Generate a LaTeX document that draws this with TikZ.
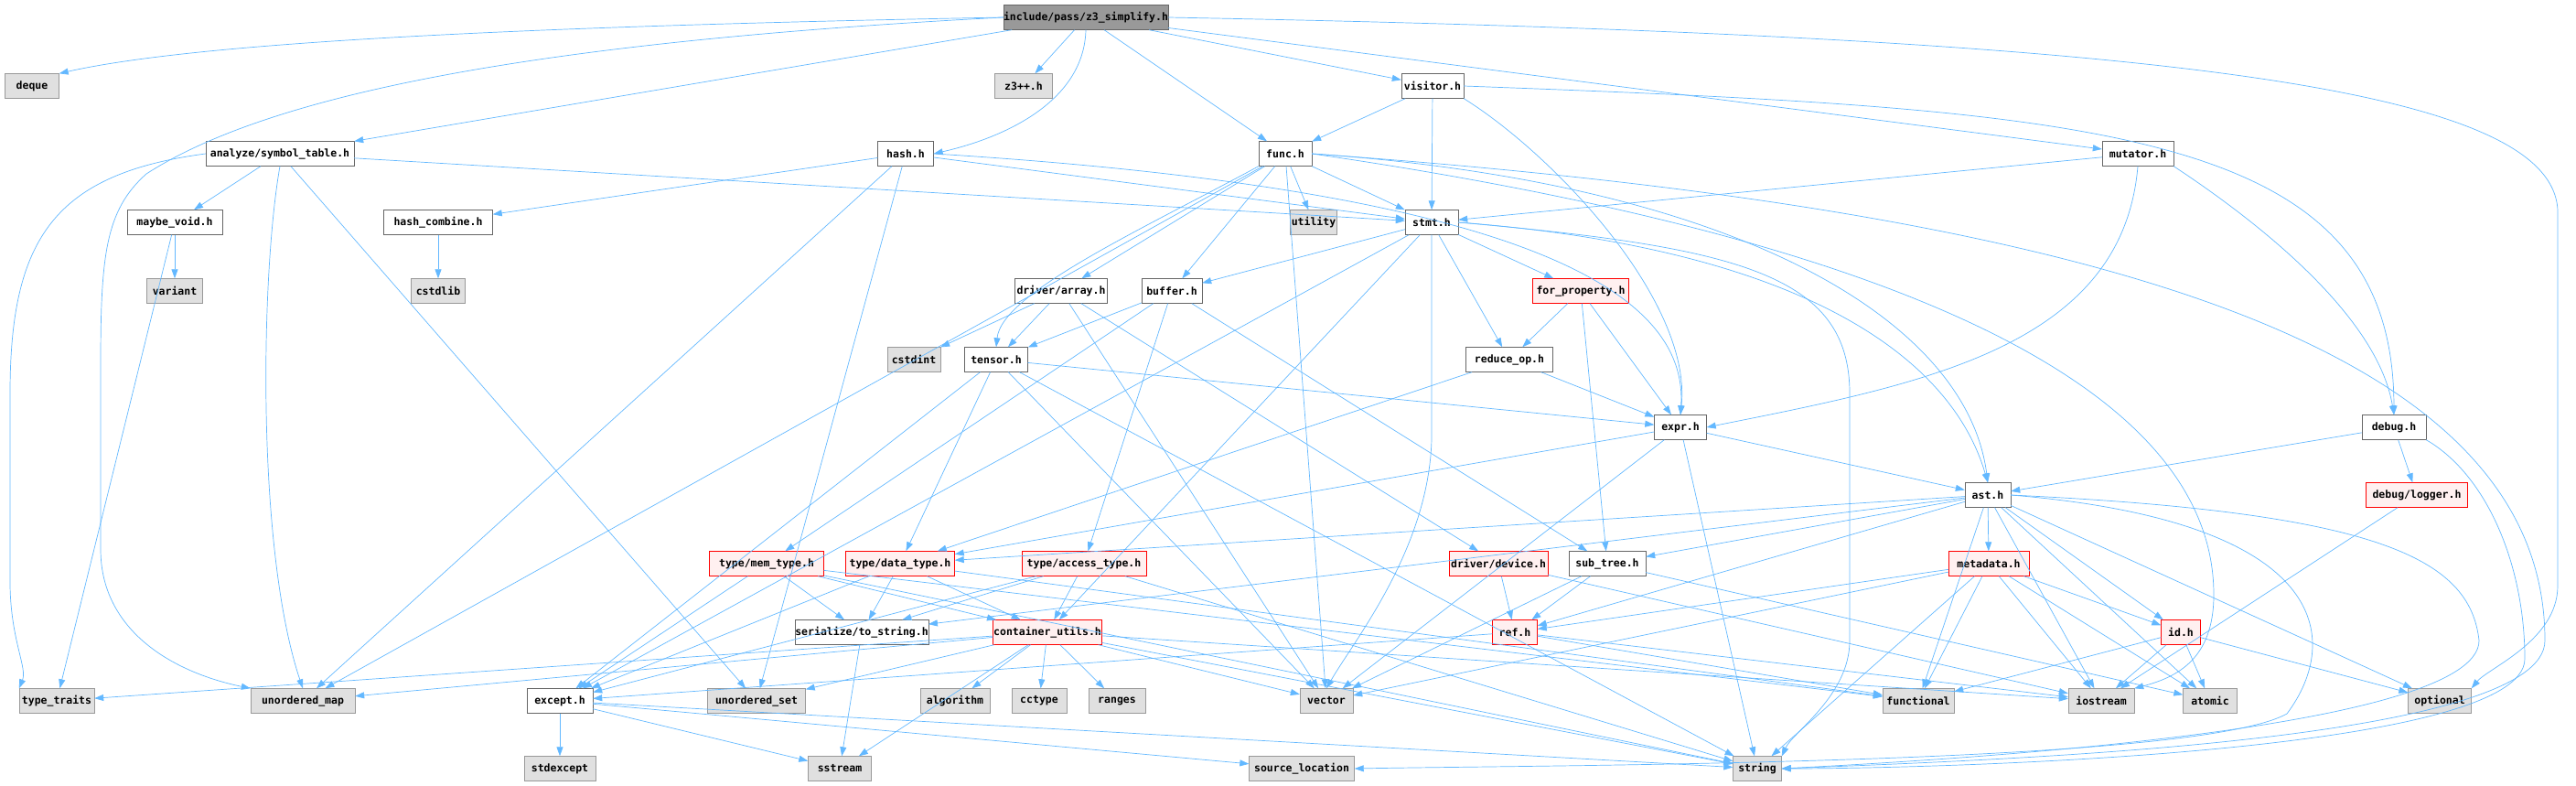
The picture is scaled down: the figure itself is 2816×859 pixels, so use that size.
\documentclass[tikz,border=0pt]{standalone}
\usepackage{fontspec}
\setmonofont{DejaVu Sans Mono}
\usetikzlibrary{arrows.meta}
\definecolor{inclblue}{HTML}{63B8FF}
\definecolor{sysgray}{HTML}{E0E0E0}
\definecolor{rootgray}{HTML}{999999}
\definecolor{truncfill}{HTML}{FFF0F0}
\begin{document}
\begin{tikzpicture}[x=1pt, y=-1pt,
    hdr/.style={rectangle, draw=black!60, fill=white, minimum height=27pt, inner sep=0pt, font=\ttfamily\bfseries\fontsize{11.5}{12}\selectfont},
    sys/.style={hdr, draw=black!40, fill=sysgray},
    trunc/.style={hdr, draw=red, fill=truncfill},
    root/.style={hdr, fill=rootgray},
    incl/.style={-{Triangle[length=10pt, width=7pt]}, draw=inclblue, line width=0.7pt}
]
\useasboundingbox (0,0) rectangle (2816,859);

\node[root, minimum width=177pt] (z3s) at (1187,19) {include/pass/z3\_simplify.h};

\node[sys, minimum width=59pt] (deque) at (35,94) {deque};
\node[sys, minimum width=63pt] (z3pp) at (1119,94) {z3++.h};
\node[hdr, minimum width=68pt] (visitor) at (1566,94) {visitor.h};

\node[hdr, minimum width=162pt] (symtab) at (306,168) {analyze/symbol\_table.h};
\node[hdr, minimum width=61pt] (hash) at (990,168) {hash.h};
\node[hdr, minimum width=58pt] (func) at (1405,168) {func.h};
\node[hdr, minimum width=78pt] (mutator) at (2337,168) {mutator.h};

\node[hdr, minimum width=104pt] (maybevoid) at (191,243) {maybe\_void.h};
\node[hdr, minimum width=119pt] (hashcomb) at (479,243) {hash\_combine.h};
\node[sys, minimum width=51pt] (utility) at (1436,243) {utility};
\node[hdr, minimum width=58pt] (stmt) at (1565,243) {stmt.h};

\node[sys, minimum width=61pt] (variant) at (191,318) {variant};
\node[sys, minimum width=59pt] (cstdlib) at (479,318) {cstdlib};
\node[hdr, minimum width=101pt] (drvarray) at (1160,318) {driver/array.h};
\node[hdr, minimum width=66pt] (buffer) at (1281,318) {buffer.h};
\node[trunc, minimum width=105pt] (forprop) at (1728,318) {for\_property.h};

\node[sys, minimum width=58pt] (cstdint) at (999,393) {cstdint};
\node[hdr, minimum width=69pt] (tensor) at (1089,393) {tensor.h};
\node[hdr, minimum width=95pt] (reduceop) at (1650,393) {reduce\_op.h};

\node[hdr, minimum width=57pt] (expr) at (1837,467) {expr.h};
\node[hdr, minimum width=70pt] (debug) at (2617,467) {debug.h};

\node[hdr, minimum width=50pt] (ast) at (2173,541) {ast.h};
\node[trunc, minimum width=111pt] (logger) at (2642,541) {debug/logger.h};

\node[trunc, minimum width=125pt] (memtype) at (838,616) {type/mem\_type.h};
\node[trunc, minimum width=119pt] (datatype) at (984,616) {type/data\_type.h};
\node[trunc, minimum width=136pt] (accesstype) at (1185,616) {type/access\_type.h};
\node[trunc, minimum width=108pt] (drvdevice) at (1638,616) {driver/device.h};
\node[hdr, minimum width=84pt] (subtree) at (1757,616) {sub\_tree.h};
\node[trunc, minimum width=88pt] (metadata) at (2174,616) {metadata.h};

\node[hdr, minimum width=137pt] (tostring) at (942,691) {serialize/to\_string.h};
\node[trunc, minimum width=119pt] (contutils) at (1145,691) {container\_utils.h};
\node[trunc, minimum width=49pt] (ref) at (1656,691) {ref.h};
\node[trunc, minimum width=43pt] (idh) at (2384,691) {id.h};

\node[sys, minimum width=82pt] (ttraits) at (62,766) {type\_traits};
\node[sys, minimum width=114pt] (umap) at (331,766) {unordered\_map};
\node[hdr, minimum width=72pt] (except) at (612,766) {except.h};
\node[sys, minimum width=107pt] (uset) at (827,766) {unordered\_set};
\node[sys, minimum width=76pt] (algorithm) at (1044,766) {algorithm};
\node[sys, minimum width=60pt] (cctype) at (1136,766) {cctype};
\node[sys, minimum width=62pt] (ranges) at (1221,766) {ranges};
\node[sys, minimum width=58pt] (vector) at (1450,766) {vector};
\node[sys, minimum width=78pt] (functional) at (2097,766) {functional};
\node[sys, minimum width=72pt] (iostream) at (2297,766) {iostream};
\node[sys, minimum width=59pt] (atomic) at (2416,766) {atomic};
\node[sys, minimum width=69pt] (optional) at (2667,766) {optional};

\node[sys, minimum width=78pt] (stdexcept) at (612,840) {stdexcept};
\node[sys, minimum width=69pt] (sstream) at (918,840) {sstream};
\node[sys, minimum width=115pt] (srcloc) at (1423,840) {source\_location};
\node[sys, minimum width=53pt] (string) at (1921,840) {string};

\draw[incl] (z3s.west) .. controls (500,30) and (200,50) .. (deque.north east);
\draw[incl] (z3s.west) .. controls (600,45) and (300,100) .. (160,190) .. controls (115,230) and (110,280) .. (110,400) -- (110,600) .. controls (110,690) and (190,735) .. (umap.north west);
\draw[incl] (z3s) -- (symtab);
\draw[incl] (z3s) -- (z3pp);
\draw[incl] (z3s.south) .. controls (1185,110) and (1100,150) .. (hash.east);
\draw[incl] (z3s) -- (func);
\draw[incl] (z3s) -- (visitor);
\draw[incl] (z3s) -- (mutator);
\draw[incl] (z3s.east) .. controls (2400,40) and (2790,100) .. (2796,230) -- (2796,640) .. controls (2796,700) and (2720,730) .. (optional.north east);

\draw[incl] (symtab.west) .. controls (60,190) and (11,260) .. (11,430) -- (11,640) .. controls (12,700) and (30,730) .. (ttraits.north west);
\draw[incl] (symtab) -- (maybevoid);
\draw[incl] (symtab.south) .. controls (285,300) and (280,600) .. (umap.north);
\draw[incl] (symtab) -- (uset);
\draw[incl] (symtab) -- (stmt);

\draw[incl] (maybevoid) -- (variant);
\draw[incl] (maybevoid) -- (ttraits);

\draw[incl] (hash) -- (hashcomb);
\draw[incl] (hash) -- (umap);
\draw[incl] (hash) -- (uset);
\draw[incl] (hash) -- (stmt);
\draw[incl] (hash.east) .. controls (1700,210) and (1845,330) .. (expr.north);
\draw[incl] (hashcomb) -- (cstdlib);

\draw[incl] (visitor) -- (func);
\draw[incl] (visitor) -- (stmt);
\draw[incl] (visitor.south east) .. controls (1700,170) and (1850,330) .. (expr.north);
\draw[incl] (visitor.east) .. controls (2300,120) and (2616,140) .. (debug.north);

\draw[incl] (mutator) -- (stmt);
\draw[incl] (mutator.south) .. controls (2320,380) and (2100,420) .. (expr.east);
\draw[incl] (mutator.south east) .. controls (2480,250) and (2600,350) .. (debug.north);

\draw[incl] (func) -- (umap);
\draw[incl] (func) -- (utility);
\draw[incl] (func) -- (stmt);
\draw[incl] (func) -- (vector);
\draw[incl] (func) -- (drvarray);
\draw[incl] (func) -- (buffer);
\draw[incl] (func.south west) .. controls (1250,250) and (1095,320) .. (tensor.north);
\draw[incl] (func.east) .. controls (1900,200) and (2150,350) .. (ast.north);
\draw[incl] (func.east) .. controls (2000,250) and (2420,400) .. (2420,650) .. controls (2420,720) and (2380,740) .. (iostream.north east);
\draw[incl] (func.east) .. controls (2300,230) and (2782,380) .. (2782,700) .. controls (2782,810) and (2200,830) .. (string.east);

\draw[incl] (stmt) -- (buffer);
\draw[incl] (stmt) -- (except);
\draw[incl] (stmt) -- (contutils);
\draw[incl] (stmt.south) -- (1565,480) .. controls (1562,600) and (1480,700) .. (vector.north);
\draw[incl] (stmt) -- (reduceop);
\draw[incl] (stmt) -- (forprop);
\draw[incl] (stmt.east) .. controls (1900,270) and (2022,300) .. (2022,430) -- (2022,700) .. controls (2022,760) and (1960,800) .. (string.north east);
\draw[incl] (stmt.east) .. controls (1950,270) and (2130,380) .. (ast.north);

\draw[incl] (forprop) -- (reduceop);
\draw[incl] (forprop) -- (subtree);
\draw[incl] (forprop) -- (expr);
\draw[incl] (reduceop) -- (expr);
\draw[incl] (reduceop) -- (datatype);

\draw[incl] (drvarray) -- (cstdint);
\draw[incl] (drvarray) -- (tensor);
\draw[incl] (drvarray) -- (drvdevice);
\draw[incl] (drvarray) -- (vector);

\draw[incl] (buffer) -- (tensor);
\draw[incl] (buffer) -- (subtree);
\draw[incl] (buffer) -- (memtype);
\draw[incl] (buffer) -- (accesstype);

\draw[incl] (tensor) -- (except);
\draw[incl] (tensor) -- (datatype);
\draw[incl] (tensor) -- (vector);
\draw[incl] (tensor) -- (expr);
\draw[incl] (tensor) -- (string);

\draw[incl] (expr) -- (ast);
\draw[incl] (expr) -- (string);
\draw[incl] (expr) -- (vector);
\draw[incl] (expr) -- (datatype);

\draw[incl] (debug) -- (ast);
\draw[incl] (debug) -- (logger);
\draw[incl] (debug.south east) .. controls (2720,520) and (2760,620) .. (2760,720) .. controls (2760,825) and (2100,840) .. (string.east);
\draw[incl] (logger) -- (iostream);

\draw[incl] (ast) -- (subtree);
\draw[incl] (ast) -- (datatype);
\draw[incl] (ast) -- (tostring);
\draw[incl] (ast) -- (ref);
\draw[incl] (ast) -- (metadata);
\draw[incl] (ast) -- (idh);
\draw[incl] (ast) -- (iostream);
\draw[incl] (ast) -- (atomic);
\draw[incl] (ast) -- (optional);
\draw[incl] (ast) -- (functional);
\draw[incl] (ast.east) .. controls (2600,560) and (2700,610) .. (2710,700) .. controls (2710,800) and (2100,832) .. (string.east);
\draw[incl] (ast.east) .. controls (2550,570) and (2560,700) .. (2500,780) .. controls (2400,836) and (1700,836) .. (srcloc.east);

\draw[incl] (memtype) -- (tostring);
\draw[incl] (memtype) -- (contutils);
\draw[incl] (memtype) -- (except);
\draw[incl] (memtype) -- (string);
\draw[incl] (memtype) -- (functional);

\draw[incl] (datatype) -- (tostring);
\draw[incl] (datatype) -- (contutils);
\draw[incl] (datatype) -- (except);
\draw[incl] (datatype) -- (functional);

\draw[incl] (accesstype) -- (tostring);
\draw[incl] (accesstype) -- (contutils);
\draw[incl] (accesstype) -- (except);
\draw[incl] (accesstype) -- (string);

\draw[incl] (drvdevice) -- (ref);
\draw[incl] (drvdevice) -- (iostream);

\draw[incl] (subtree) -- (ref);
\draw[incl] (subtree) -- (vector);
\draw[incl] (subtree) -- (atomic);

\draw[incl] (metadata) -- (ref);
\draw[incl] (metadata) -- (vector);
\draw[incl] (metadata) -- (functional);
\draw[incl] (metadata) -- (string);
\draw[incl] (metadata) -- (iostream);
\draw[incl] (metadata) -- (idh);
\draw[incl] (metadata) -- (atomic);

\draw[incl] (tostring) -- (sstream);

\draw[incl] (contutils) -- (ttraits);
\draw[incl] (contutils) -- (umap);
\draw[incl] (contutils) -- (uset);
\draw[incl] (contutils) -- (algorithm);
\draw[incl] (contutils) -- (cctype);
\draw[incl] (contutils) -- (ranges);
\draw[incl] (contutils) -- (sstream);
\draw[incl] (contutils) -- (vector);
\draw[incl] (contutils) -- (string);
\draw[incl] (contutils) -- (iostream);

\draw[incl] (ref) -- (except);
\draw[incl] (ref) -- (functional);
\draw[incl] (ref) -- (iostream);

\draw[incl] (idh) -- (functional);
\draw[incl] (idh) -- (iostream);
\draw[incl] (idh) -- (atomic);
\draw[incl] (idh) -- (optional);

\draw[incl] (except) -- (stdexcept);
\draw[incl] (except) -- (sstream);
\draw[incl] (except) -- (string);
\draw[incl] (except) -- (srcloc);
\end{tikzpicture}
\end{document}
